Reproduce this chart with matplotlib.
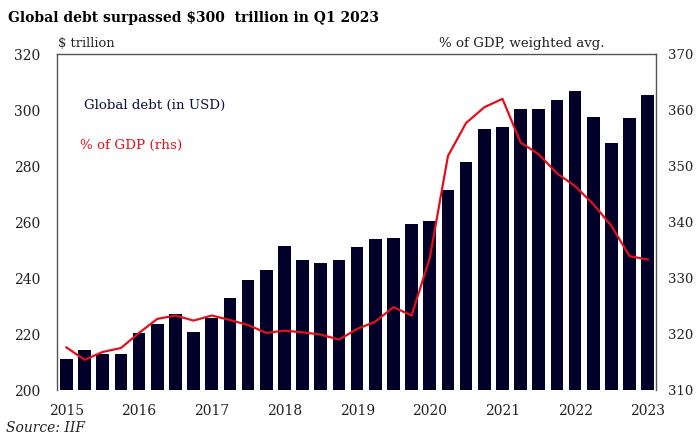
import matplotlib.pyplot as plt
import numpy as np

# quarterly, 2015 Q1 .. 2023 Q1
debt = [211, 214.3, 212.9, 213, 220.3, 223.4, 227.2, 220.7, 225.6, 232.7,
        239.3, 243, 251.6, 246.5, 245.5, 246.5, 251, 254, 254.4, 259.4,
        260.2, 271.6, 281.6, 293.3, 294, 300.2, 300.2, 303.6, 306.7, 297.4,
        288.4, 297, 305.4]
pct_gdp = [317.6, 315.4, 316.8, 317.5, 320.2, 322.7, 323.3, 322.4, 323.3, 322.5,
           321.6, 320.2, 320.6, 320.3, 319.9, 319.0, 320.9, 322.2, 324.8, 323.3,
           333.6, 351.8, 357.7, 360.5, 362.0, 354.2, 352.1, 348.7, 346.4, 343.2,
           339.3, 333.9, 333.3]
years = ['2015', '2016', '2017', '2018', '2019', '2020', '2021', '2022', '2023']

plt.rcParams['font.family'] = ['DejaVu Serif']
navy = '#000028'
red = '#e2101c'

fig = plt.figure(figsize=(6.96, 4.36), dpi=100)
ax = fig.add_axes([0.0819, 0.1055, 0.8606, 0.7705])
x = np.arange(len(debt))
ax.bar(x, debt, width=0.7, color=navy, bottom=0)
ax.set_ylim(200, 320)
ax.set_xlim(-0.52, 32.45)
ax.set_yticks(range(200, 321, 20))
ax.set_xticks(range(0, len(debt), 4))
ax.set_xticklabels(years)
ax.tick_params(length=0, labelsize=10, colors='#222222')
ax.tick_params(axis='y', pad=12)
ax.tick_params(axis='x', pad=10)
for s in ['left', 'top', 'right']:
    ax.spines[s].set_color('#555555')
    ax.spines[s].set_linewidth(1)
ax.spines['bottom'].set_visible(False)

ax2 = ax.twinx()
ax2.plot(x, pct_gdp, color=red, lw=1.6)
ax2.set_ylim(310, 370)
ax2.set_yticks(range(310, 371, 10))
ax2.tick_params(length=0, labelsize=9.5, colors='#222222', pad=9)
for s in ax2.spines.values():
    s.set_visible(False)

ax.text(0.95, 301.5, 'Global debt (in USD)', color='#0a1040', fontsize=9.6, va='center')
ax.text(0.75, 287.5, '% of GDP (rhs)', color=red, fontsize=9.7, va='center')

fig.text(0.012, 0.958, 'Global debt surpassed $300  trillion in Q1 2023',
         fontsize=10, fontweight='bold', va='center')
fig.text(0.083, 0.9, '$ trillion', fontsize=9.4, va='center', color='#222222')
fig.text(0.75, 0.9, '% of GDP, weighted avg.', fontsize=9.6, va='center', ha='center',
         color='#222222')
fig.text(0.008, 0.018, 'Source: IIF', fontsize=10, style='italic', va='center',
         color='#222222')

fig.savefig('out.png', dpi=100)
